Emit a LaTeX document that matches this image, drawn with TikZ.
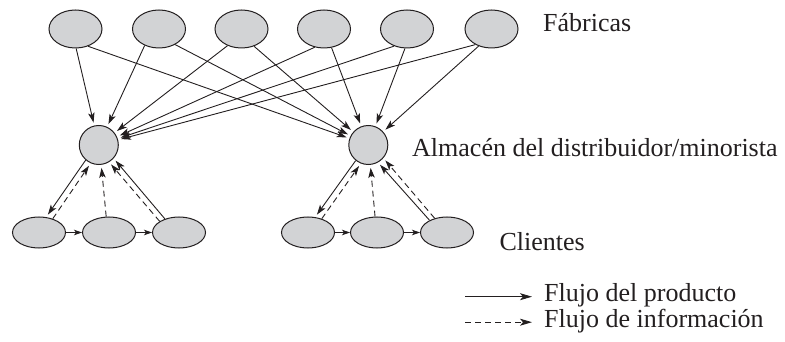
\documentclass[tikz,border=0pt]{standalone}
\usepackage{fontspec}
\setmainfont{Liberation Serif}
\usetikzlibrary{arrows.meta,shapes.geometric}
\definecolor{nodegray}{RGB}{210,211,213}
\definecolor{inkc}{RGB}{35,31,32}
\begin{document}
\begin{tikzpicture}[x=1pt,y=-1pt,
  nodebase/.style={draw=inkc, fill=nodegray, line width=1pt, inner sep=0pt},
  fab/.style={nodebase, ellipse, minimum width=53pt, minimum height=38pt},
  cli/.style={nodebase, ellipse, minimum width=53pt, minimum height=31pt},
  alm/.style={nodebase, circle, minimum size=39pt},
  flow/.style={draw=inkc, line width=0.9pt, -{Stealth[length=10pt,width=6.5pt,inset=2.5pt]}, shorten >=3pt},
  info/.style={flow, dash pattern=on 6pt off 4pt},
  chainarrow/.style={draw=inkc, line width=0.9pt, -{Stealth[length=8pt,width=5.5pt,inset=2pt]}},
  legarrow/.style={draw=inkc, line width=0.9pt, -{Stealth[length=12pt,width=7pt,inset=3pt]}},
  lbl/.style={anchor=base west, inner sep=0pt, font=\fontsize{26}{30}\selectfont, text=inkc}
]
\useasboundingbox (0,0) rectangle (785,342);

% factories
\node[fab] (f1) at (75.5,29) {};
\node[fab] (f2) at (159,29) {};
\node[fab] (f3) at (241.5,29) {};
\node[fab] (f4) at (324,29) {};
\node[fab] (f5) at (407,29) {};
\node[fab] (f6) at (491.5,29) {};

% warehouses
\node[alm] (w1) at (98.8,145) {};
\node[alm] (w2) at (368.3,145) {};

% customers
\node[cli] (c1) at (39,232.5) {};
\node[cli] (c2) at (109,232.5) {};
\node[cli] (c3) at (179,232.5) {};
\node[cli] (c4) at (308,232.5) {};
\node[cli] (c5) at (377,232.5) {};
\node[cli] (c6) at (447,232.5) {};

% labels
\node[lbl] (tf) at (543,31.7) {Fábricas};
\node[lbl] (ta) at (412,156.7) {Almacén del distribuidor/minorista};
\node[lbl] (tc) at (499.3,250) {Clientes};
\node[lbl] (tp) at (544,301.7) {Flujo del producto};
\node[lbl] (ti) at (544,327.7) {Flujo de información};

% factory -> warehouse
\draw[flow] (f1.-88) -- (w1);
\draw[flow] (f1.-54) -- (w2);
\draw[flow] (f2.-131) -- (w1);
\draw[flow] (f2.-44) -- (w2);
\draw[flow] (f3.-130) -- (w1);
\draw[flow] (f3.-54) -- (w2);
\draw[flow] (f4.-117) -- (w1);
\draw[flow] (f4.-68) -- (w2);
\draw[flow] (f5.-127) -- (w1);
\draw[flow] (f5.-96) -- (w2);
\draw[flow] (f6.-136) -- (w1);
\draw[flow] (f6.-127) -- (w2);

% left group
\draw[flow] (w1.229) -- (c1.65);
\draw[info] (c1.45) -- (w1.246);
\draw[info] (c2.100) -- (w1.-83);
\draw[info] (c3.150) -- (w1.-59);
\draw[flow] (c3.136) -- (w1.-42);
\draw[chainarrow] (c1) -- (c2);
\draw[chainarrow] (c2) -- (c3);

% right group
\draw[flow] (w2.231) -- (c4.65);
\draw[info] (c4.45) -- (w2.248);
\draw[info] (c5.97) -- (w2.-84);
\draw[flow] (c6.145) -- (w2.-61);
\draw[info] (c6.131) -- (w2.-41);
\draw[chainarrow] (c4) -- (c5);
\draw[chainarrow] (c5) -- (c6);

% legend
\coordinate (ls1) at (465,296.7);
\coordinate (le1) at (532,296.7);
\coordinate (ls2) at (465,322.2);
\coordinate (le2) at (532,322.2);
\draw[legarrow] (ls1) -- (le1);
\draw[legarrow, dash pattern=on 6pt off 4pt] (ls2) -- (le2);
\end{tikzpicture}
\end{document}
